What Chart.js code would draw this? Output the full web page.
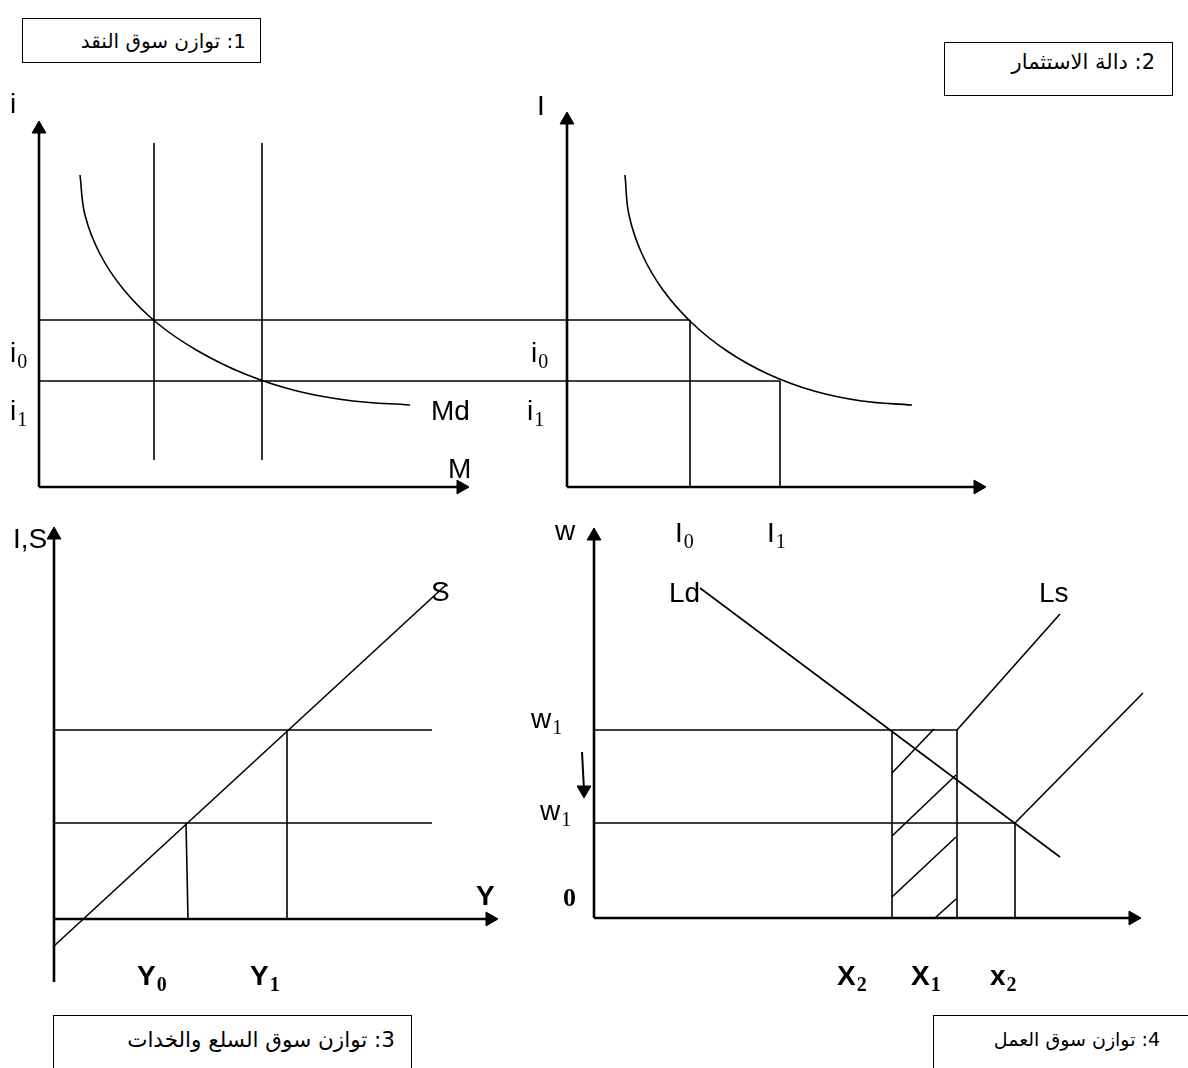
<!DOCTYPE html>
<html>
<head>
<meta charset="utf-8">
<script src="https://cdn.jsdelivr.net/npm/chart.js@4/dist/chart.umd.min.js"></script>
<style>
  html, body { margin: 0; padding: 0; background: #fff; }
  #wrap { position: relative; width: 1188px; height: 1068px; overflow: hidden; }
  canvas { position: absolute; left: 0; top: 0; }
  .box { position: absolute; border: 1.5px solid #000; box-sizing: border-box; background: #fff;
         direction: rtl; text-align: right; font-family: "DejaVu Sans", "Noto Sans", sans-serif;
         font-size: 19px; line-height: 1; color: #000; white-space: nowrap; }
</style>
</head>
<body>
<div id="wrap">
  <canvas id="c" width="1188" height="1068"></canvas>
  <div class="box" style="left:22px; top:18px; width:239px; height:45px; padding:12px 14px 0 0; font-size:20px;">1: توازن سوق النقد</div>
  <div class="box" style="left:944px; top:42px; width:229px; height:54px; padding:9px 17px 0 0; font-size:21px;">2: دالة الاستثمار</div>
  <div class="box" style="left:53px; top:1015px; width:359px; height:70px; padding:13px 16px 0 0; font-size:21.5px;">3: توازن سوق السلع والخدات</div>
  <div class="box" style="left:933px; top:1015px; width:270px; height:70px; padding:14px 42px 0 0;">4: توازن سوق العمل</div>
</div>
<script>
// ---------- Panel 1 : money market ----------
const moneyDemandCurve = [[80,175],[85,215],[100,254],[124,290],[157,323],[198,351],[245,374],[297,391],[353,401],[410,405]];
const moneySupplyLines = [[[154,143],[154,460]], [[262,143],[262,460]]];
const interestLines   = [[[39,320],[690,320]], [[39,381],[780,381]]];
const panel1Axes      = [[[39,487],[39,127]], [[39,487],[462,487]]];

// ---------- Panel 2 : investment function ----------
const investmentCurve = [[625,175],[629,215],[642,254],[663,290],[692,323],[727,351],[768,374],[814,391],[862,401],[912,405]];
const investmentDrops = [[[690,320],[690,487]], [[780,381],[780,487]]];
const panel2Axes      = [[[567,487],[567,118]], [[567,487],[980,487]]];

// ---------- Panel 3 : goods market ----------
const savingsLine     = [[54,946],[447,584]];
const investmentLevels= [[[54,730],[432,730]], [[54,823],[432,823]]];
const outputDrops     = [[[186,823],[188,919]], [[287,730],[287,919]]];
const panel3Axes      = [[[54,982],[54,533]], [[54,919],[491,919]]];

// ---------- Panel 4 : labour market ----------
const laborDemand     = [[700,588],[1060,857]];
const laborSupplyHigh = [[957,730],[1060,614]];
const laborSupplyLow  = [[1015,823],[1143,693]];
const wageLines       = [[[594,730],[957,730]], [[594,823],[1015,823]]];
const employmentDrops = [[[892,730],[892,918]], [[957,730],[957,918]], [[1015,823],[1015,918]]];
const hatchLines      = [[[892,773],[934,729]], [[892,836],[956,775]], [[892,897],[956,837]], [[935,918],[956,899]]];
const panel4Axes      = [[[594,918],[594,534]], [[594,918],[1134,918]]];
const wageFallArrow   = [[582,752],[584,790]];

// arrow heads: [x, y, rotation]
const arrowHeads = [
  [39,129,0],[461,487,90],
  [567,120,0],[978,487,90],
  [54,535,0],[490,919,90],
  [594,536,0],[1133,918,90],
  [584,790,180]
];

// text labels: [main, subscript, x, y, bold]
const axisLabels = [
  ['i','',10,113,false], ['i','0',10,362,false], ['i','1',10,420,false],
  ['Md','',431,420,false], ['M','',448,478,false],
  ['I','',537,115,false], ['i','0',531,362,false], ['i','1',527,420,false],
  ['I','0',675,542,false], ['I','1',767,542,false],
  ['I,S','',13,548,false], ['S','',431,601,false], ['Y','',476,905,true],
  ['Y','0',137,985,true], ['Y','1',250,985,true],
  ['w','',555,540,false], ['Ld','',669,602,false], ['Ls','',1039,602,false],
  ['w','1',531,728,false], ['w','1',540,820,false],
  ['X','2',837,985,true], ['X','1',911,985,true], ['x','2',990,985,true]
];
const originLabel = ['0',563,906];

// ---------- build datasets ----------
const toPts = arr => arr.map(p => ({x:p[0], y:p[1]}));
const datasets = [];
function addLine(arr, width, opts) {
  datasets.push(Object.assign({
    data: toPts(arr), showLine: true, borderColor: '#000', borderWidth: width,
    pointRadius: 0, fill: false, tension: 0
  }, opts || {}));
}
[panel1Axes, panel2Axes, panel3Axes, panel4Axes].forEach(g => g.forEach(s => addLine(s, 2.6)));
[moneySupplyLines, interestLines, investmentDrops, investmentLevels, outputDrops, wageLines, employmentDrops, hatchLines]
  .forEach(g => g.forEach(s => addLine(s, 1.6)));
addLine(moneyDemandCurve, 1.6, {tension: 0.4});
addLine(investmentCurve, 1.6, {tension: 0.4});
addLine(savingsLine, 1.6);
addLine(laborDemand, 1.6);
addLine(laborSupplyHigh, 1.6);
addLine(laborSupplyLow, 1.6);
addLine(wageFallArrow, 2);
datasets.push({
  data: arrowHeads.map(a => ({x:a[0], y:a[1]})),
  showLine: false, pointStyle: 'triangle', pointRadius: 8,
  rotation: arrowHeads.map(a => a[2]),
  backgroundColor: '#000', borderColor: '#000', borderWidth: 1
});

const labelPlugin = {
  id: 'labels',
  afterDatasetsDraw(chart) {
    const ctx = chart.ctx, sx = chart.scales.x, sy = chart.scales.y;
    ctx.save();
    ctx.fillStyle = '#000';
    ctx.textBaseline = 'alphabetic';
    ctx.textAlign = 'left';
    axisLabels.forEach(([main, sub, x, y, bold]) => {
      const px = sx.getPixelForValue(x), py = sy.getPixelForValue(y);
      ctx.font = (bold ? 'bold ' : '') + '28px "Liberation Sans", Arial, sans-serif';
      ctx.fillText(main, px, py);
      if (sub) {
        const w = ctx.measureText(main).width;
        ctx.font = (bold ? 'bold ' : '') + '20px "Liberation Serif", "Times New Roman", serif';
        ctx.fillText(sub, px + w + 1, py + 6);
      }
    });
    ctx.font = 'bold 26px "Liberation Serif", "Times New Roman", serif';
    ctx.fillText(originLabel[0], sx.getPixelForValue(originLabel[1]), sy.getPixelForValue(originLabel[2]));
    ctx.restore();
  }
};

new Chart(document.getElementById('c'), {
  type: 'scatter',
  data: { datasets },
  options: {
    responsive: false, animation: false, devicePixelRatio: 1,
    layout: { padding: 0, autoPadding: false },
    plugins: { legend: { display: false }, tooltip: { enabled: false } },
    scales: {
      x: { type: 'linear', min: 0, max: 1188, display: false },
      y: { type: 'linear', min: 0, max: 1068, reverse: true, display: false }
    },
    clip: false
  },
  plugins: [labelPlugin]
});
</script>
</body>
</html>
